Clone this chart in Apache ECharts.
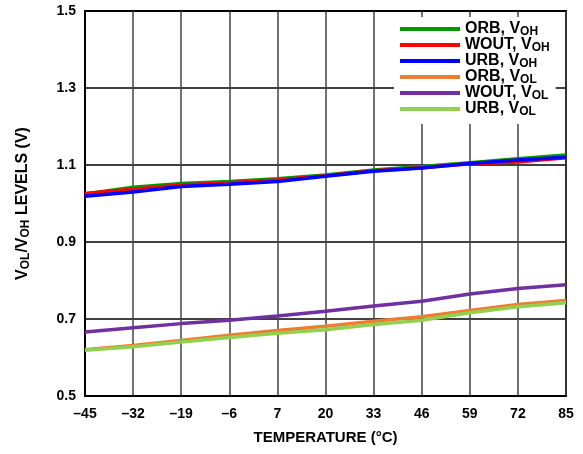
<!DOCTYPE html>
<html><head><meta charset="utf-8">
<script src="https://cdn.jsdelivr.net/npm/echarts@6/dist/echarts.min.js"></script>
<style>html,body{margin:0;padding:0;background:#fff}#c{width:583px;height:454px}</style>
</head><body><div id="c"></div>
<script>
const temps = ['–45','–32','–19','–6','7','20','33','46','59','72','85'];
const orbVOH  = [1.025,1.042,1.052,1.057,1.064,1.074,1.087,1.096,1.106,1.116,1.126];
const woutVOH = [1.026,1.037,1.048,1.054,1.061,1.072,1.085,1.093,1.103,1.108,1.119];
const urbVOH  = [1.019,1.030,1.044,1.050,1.057,1.071,1.084,1.092,1.104,1.113,1.120];
const orbVOL  = [0.620,0.631,0.644,0.658,0.670,0.681,0.694,0.706,0.722,0.738,0.748];
const woutVOL = [0.666,0.677,0.688,0.697,0.708,0.720,0.734,0.746,0.765,0.779,0.789];
const urbVOL  = [0.619,0.628,0.640,0.652,0.663,0.672,0.686,0.697,0.716,0.732,0.742];
const seriesDefs = [
  {name:'ORB, VOH', label:'{a|ORB, V}{s|OH}', data:orbVOH, color:'#009a00'},
  {name:'WOUT, VOH', label:'{a|WOUT, V}{s|OH}', data:woutVOH, color:'#ff0000'},
  {name:'URB, VOH', label:'{a|URB, V}{s|OH}', data:urbVOH, color:'#0000ff'},
  {name:'ORB, VOL', label:'{a|ORB, V}{s|OL}', data:orbVOL, color:'#ed7d31'},
  {name:'WOUT, VOL', label:'{a|WOUT, V}{s|OL}', data:woutVOL, color:'#7030a0'},
  {name:'URB, VOL', label:'{a|URB, V}{s|OL}', data:urbVOL, color:'#92d050'}
];
const labelMap = {}; seriesDefs.forEach(d => labelMap[d.name] = d.label);
const F = 'Liberation Sans, Arial, sans-serif';
const chart = echarts.init(document.getElementById('c'));
chart.setOption({
  animation:false,
  backgroundColor:'#fff',
  grid:{left:85,right:17,top:11,bottom:58,show:true,borderColor:'#000',borderWidth:2,backgroundColor:'transparent'},
  legend:{
    orient:'vertical', left:394, top:17, padding:[3,6,6,6], backgroundColor:'#fff',
    itemWidth:60, itemHeight:4, itemGap:-2, icon:'rect',
    data: seriesDefs.map(d=>d.name),
    formatter: n => labelMap[n],
    textStyle:{ rich:{
      a:{fontFamily:F,fontWeight:'bold',fontSize:16,color:'#000',lineHeight:16},
      s:{fontFamily:F,fontWeight:'bold',fontSize:12,color:'#000',lineHeight:10,padding:[6,0,0,0]}
    }}
  },
  xAxis:{
    type:'category', data:temps, boundaryGap:false,
    name:'TEMPERATURE (°C)', nameLocation:'middle', nameGap:34,
    nameTextStyle:{fontFamily:F,fontWeight:'bold',fontSize:15,color:'#000'},
    axisLine:{lineStyle:{color:'#000',width:2}},
    axisTick:{show:false},
    axisLabel:{fontFamily:F,fontWeight:'bold',fontSize:14,color:'#000',margin:11},
    splitLine:{show:true,lineStyle:{color:'#444',width:1.5}}
  },
  yAxis:{
    type:'value', min:0.5, max:1.5, interval:0.2,
    name:'{a|V}{s|OL}{a|/V}{s|OH}{a| LEVELS (V)}', nameLocation:'middle', nameGap:54, nameRotate:90,
    nameTextStyle:{ rich:{
      a:{fontFamily:F,fontWeight:'bold',fontSize:16,color:'#000',lineHeight:17},
      s:{fontFamily:F,fontWeight:'bold',fontSize:12,color:'#000',lineHeight:11,padding:[6,0,0,0]}
    }},
    axisLine:{show:true,lineStyle:{color:'#000',width:2}},
    axisTick:{show:false},
    axisLabel:{fontFamily:F,fontWeight:'bold',fontSize:14,color:'#000',margin:9,formatter:v=>v.toFixed(1)},
    splitLine:{show:true,lineStyle:{color:'#000',width:1.5}}
  },
  series: seriesDefs.map(d=>({
    name:d.name, type:'line', data:d.data, symbol:'none', smooth:false,
    lineStyle:{color:d.color,width:3.5}, itemStyle:{color:d.color}
  }))
});
</script></body></html>
